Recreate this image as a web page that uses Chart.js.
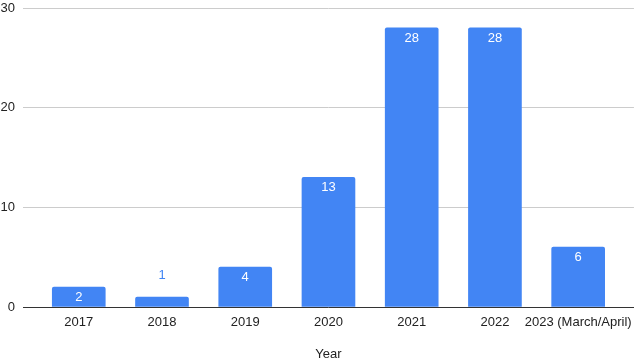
<!DOCTYPE html>
<html>
<head>
<meta charset="utf-8">
<script src="https://cdn.jsdelivr.net/npm/chart.js@4"></script>
<style>
  html, body { margin: 0; padding: 0; background: #fff; }
  #wrap { width: 640px; height: 362px; }
</style>
</head>
<body>
<div id="wrap"><canvas id="chart" width="640" height="362"></canvas></div>
<script>
// Chart data
const years = ['2017', '2018', '2019', '2020', '2021', '2022', '2023 (March/April)'];
const counts = [2, 1, 4, 13, 28, 28, 6];
const yTicks = [0, 10, 20, 30];

const barColor = '#4285f4';

// Value labels on top of bars (inside if the bar is tall enough)
const valueLabels = {
    id: 'valueLabels',
    afterDatasetsDraw(chart) {
        const ctx = chart.ctx;
        const meta = chart.getDatasetMeta(0);
        ctx.save();
        ctx.font = '13px "Liberation Sans", Arial, sans-serif';
        ctx.textAlign = 'center';
        ctx.textBaseline = 'middle';
        meta.data.forEach((bar, i) => {
            const h = bar.base - bar.y;
            if (h >= 18) {
                ctx.fillStyle = '#ffffff';
                ctx.fillText(String(counts[i]), bar.x, bar.y + 10);
            } else {
                ctx.fillStyle = barColor;
                ctx.fillText(String(counts[i]), bar.x, bar.y - 22);
            }
        });
        ctx.restore();
    }
};

new Chart(document.getElementById('chart'), {
    type: 'bar',
    data: {
        datasets: [{
            data: counts.map((v, i) => ({ x: i, y: v })),
            backgroundColor: barColor,
            borderRadius: { topLeft: 2, topRight: 2 },
            borderSkipped: 'bottom',
            barThickness: 53
        }]
    },
    options: {
        responsive: false,
        animation: false,
        layout: { padding: { top: 8, right: 4, left: 0, bottom: 0 } },
        plugins: {
            legend: { display: false },
            tooltip: { enabled: false }
        },
        scales: {
            x: {
                type: 'linear',
                offset: false,
                min: -0.67,
                max: years.length - 0.33,
                grid: { display: false, drawTicks: false },
                border: { display: true, color: '#333333', width: 1 },
                ticks: {
                    stepSize: 1,
                    includeBounds: false,
                    autoSkip: false,
                    maxRotation: 0,
                    padding: 8,
                    color: '#222222',
                    font: { family: '"Liberation Sans", Arial, sans-serif', size: 13 },
                    callback: (v) => {
                        const i = Math.round(v);
                        return Math.abs(v - i) < 1e-6 && years[i] !== undefined ? years[i] : '';
                    }
                },
                title: {
                    display: true,
                    text: 'Year',
                    color: '#222222',
                    font: { family: '"Liberation Sans", Arial, sans-serif', size: 13 },
                    padding: { top: 16, bottom: 0 }
                },
                afterFit: (scale) => { scale.height = 55; }
            },
            y: {
                min: 0,
                max: 30,
                afterBuildTicks: (scale) => { scale.ticks = yTicks.map(v => ({ value: v })); },
                grid: { color: '#cccccc', drawTicks: false },
                border: { display: false },
                ticks: {
                    padding: 8,
                    color: '#222222',
                    font: { family: '"Liberation Sans", Arial, sans-serif', size: 13 }
                },
                afterFit: (scale) => {
                    scale.width = 23;
                    scale.paddingTop = 0;
                    scale.paddingBottom = 0;
                }
            }
        }
    },
    plugins: [valueLabels]
});
</script>
</body>
</html>
